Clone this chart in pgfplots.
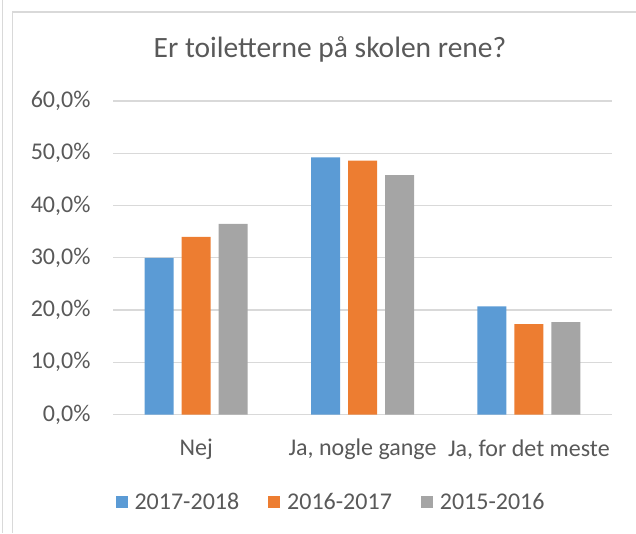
\documentclass[border=0pt]{standalone}
\usepackage{pgfplots}
\pgfplotsset{compat=1.18}
\usepackage{fontspec}
\setmainfont{Carlito}
\definecolor{cblue}{HTML}{5B9BD5}
\definecolor{corange}{HTML}{ED7D31}
\definecolor{cgray}{HTML}{A5A5A5}
\definecolor{ctext}{HTML}{595959}
\definecolor{cgrid}{HTML}{D9D9D9}
\definecolor{cframe}{HTML}{D9D9D9}
\begin{document}
\begin{tikzpicture}[x=1pt,y=1pt]
\path[use as bounding box] (0,0) rectangle (636,533);
\draw[cframe,line width=1.5pt] (2.5,0) -- (2.5,533);
\draw[cframe,line width=1.5pt] (12.5,0) -- (12.5,521) -- (636,521);
\node[anchor=base, text=ctext, font=\fontsize{29.5}{34}\selectfont] at (330,475) {Er toiletterne på skolen rene?};
\begin{axis}[
  at={(113pt,118.5pt)}, anchor=south west,
  scale only axis, width=499pt, height=313.5pt,
  ybar=8pt, bar width=29pt,
  xmin=-0.5, xmax=2.5, ymin=0, ymax=60,
  xtick={0,1,2}, xticklabels={Nej,{Ja, nogle gange},{Ja, for det meste}},
  ytick={0,10,20,30,40,50,60},
  yticklabels={{0,0\%},{10,0\%},{20,0\%},{30,0\%},{40,0\%},{50,0\%},{60,0\%}},
  ymajorgrids, major grid style={cgrid,line width=1.2pt},
  axis x line*=bottom, axis y line*=left,
  x axis line style={cgrid,line width=1.2pt,-},
  y axis line style={draw=none},
  major tick length=0pt,
  tick label style={font=\fontsize{24}{28}\selectfont, text=ctext},
  yticklabel style={anchor=east, xshift=-19pt},
  xticklabel style={anchor=center, yshift=-35pt},
  legend style={at={(0.437,-0.278)}, anchor=center, draw=none, legend columns=-1,
    font=\fontsize{24}{28}\selectfont, text=ctext,
    /tikz/every odd column/.append style={column sep=5pt},
    /tikz/every even column/.append style={column sep=27pt}},
  legend image code/.code={\fill[#1] (0pt,-6pt) rectangle (12pt,6pt);},
  clip=false,
]
\addplot[fill=cblue, draw=none] coordinates {(0,30.0) (1,49.2) (2,20.7)};
\addplot[fill=corange, draw=none] coordinates {(0,34.0) (1,48.6) (2,17.3)};
\addplot[fill=cgray, draw=none] coordinates {(0,36.5) (1,45.8) (2,17.7)};
\legend{2017-2018,2016-2017,2015-2016}
\end{axis}
\end{tikzpicture}
\end{document}
